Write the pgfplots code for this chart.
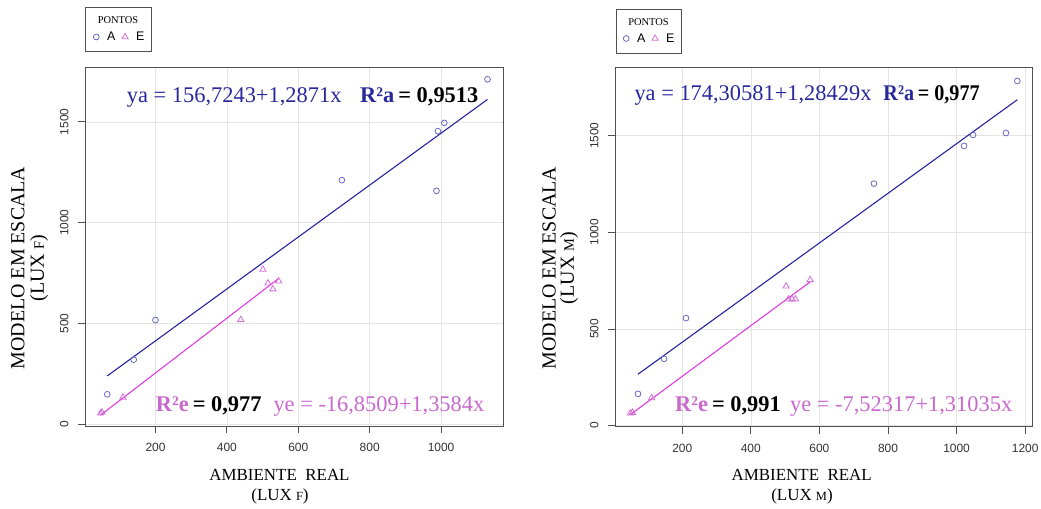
\documentclass[border=0pt]{standalone}
\usepackage{pgfplots}
\pgfplotsset{compat=1.18}
\usepackage{pgfplotstable}
\usepackage{fontspec}
\setmainfont{Liberation Serif}
\setsansfont{Liberation Sans}
\definecolor{lineA}{RGB}{35,35,160}
\definecolor{markA}{RGB}{105,105,195}
\definecolor{lineE}{RGB}{222,60,222}
\definecolor{markE}{RGB}{210,110,215}
\definecolor{txtA}{RGB}{40,40,155}
\definecolor{txtE}{RGB}{200,105,205}
\definecolor{boxc}{RGB}{80,80,80}
\definecolor{gridc}{RGB}{228,228,228}
\definecolor{tickc}{RGB}{50,50,50}

\pgfplotstableread{
x y
1130 1711
1009 1495
991 1454
722 1211
987 1158
200 517
139 321
65 149
}\LA
\pgfplotstableread{
x y
501 768
515 700
529 671
545 710
439 519
109 134
50 60
46 55
}\LE
\pgfplotstableread{
x y
1177 1783
1144 1514
1048 1504
1022 1447
759 1252
211 556
147 345
71 164
}\RA
\pgfplotstableread{
x y
503 721
510 654
520 654
530 654
573 754
111 143
55 67
49 64
}\RE

\pgfplotsset{
  rstyle/.style={
    scale only axis,
    anchor=south west,
    axis line style={boxc, line width=0.8pt},
    grid=major,
    major grid style={gridc, line width=0.6pt},
    tick align=outside,
    major tick length=7bp,
    tick style={boxc, line width=0.8pt},
    xtick pos=bottom, ytick pos=left,
    ytick={0,500,1000,1500},
    /pgf/number format/.cd, 1000 sep={}, assume math mode=true, /pgfplots/.cd,
    ticklabel style={font=\sffamily\fontsize{12}{14}\selectfont, text=tickc},
    yticklabel style={rotate=90, anchor=south},
    yticklabel shift=6bp,
    xticklabel shift=7bp,
    legend columns=-1,
    legend style={draw=none, fill=none, inner sep=0pt, outer sep=0pt,
      font=\sffamily\fontsize{12.5}{14}\selectfont,
      nodes={inner sep=1bp},
      /tikz/every odd column/.append style={column sep=7bp},
      /tikz/every even column/.append style={column sep=5.5bp}},
    legend image code/.code={\draw[mark repeat=2,mark phase=2,##1] plot coordinates {(0bp,0bp)(5bp,0bp)(10bp,0bp)};},
    scaled ticks=false,
  },
  markAst/.style={only marks, mark=o, mark size=2.9bp, draw=markA, mark options={line width=0.8pt}},
  markEst/.style={only marks, mark=triangle, mark size=3.6bp, draw=markE, mark options={line width=0.8pt}},
}

\begin{document}
\begin{tikzpicture}
\useasboundingbox (0,0) rectangle (1041bp,509bp);

% ---------- left panel ----------
\begin{axis}[rstyle,
  at={(85bp,83bp)}, width=418bp, height=359bp,
  xmin=2.6, xmax=1173.4, ymin=-8, ymax=1772,
  xtick={200,400,600,800,1000},
  legend style={at={(0.02,1.0836)}, anchor=west},
]
\addplot[markAst] table[x=x,y=y]{\LA};
\addlegendentry{A}
\addplot[markEst] table[x=x,y=y]{\LE};
\addlegendentry{E}
\addplot[lineA, line width=1.1pt, forget plot] coordinates {(65,240.4) (1130,1611.2)};
\addplot[lineE, line width=1.1pt, forget plot] coordinates {(46,45.6) (545,723.5)};
\end{axis}

% ---------- right panel ----------
\begin{axis}[rstyle,
  at={(615bp,82.3bp)}, width=417.7bp, height=359.4bp,
  xmin=4, xmax=1222, ymin=-6, ymax=1854,
  xtick={200,400,600,800,1000,1200},
  legend style={at={(0.02,1.0801)}, anchor=west},
]
\addplot[markAst] table[x=x,y=y]{\RA};
\addlegendentry{A}
\addplot[markEst] table[x=x,y=y]{\RE};
\addlegendentry{E}
\addplot[lineA, line width=1.1pt, forget plot] coordinates {(71,265.5) (1177,1685.9)};
\addplot[lineE, line width=1.1pt, forget plot] coordinates {(49,56.7) (573,743.4)};
\end{axis}

% legend frames and titles
\draw[boxc, line width=0.8pt] (85bp,458bp) rectangle (151bp,502bp);
\node[font=\fontsize{10.5}{12}\selectfont] at (118bp,489bp) {PONTOS};
\draw[boxc, line width=0.8pt] (616bp,456bp) rectangle (681bp,500bp);
\node[font=\fontsize{10.5}{12}\selectfont] at (648.5bp,487bp) {PONTOS};

% axis titles
\node[font=\fontsize{17}{20}\selectfont] at (279.5bp,34bp) {AMBIENTE~~REAL};
\node[font=\fontsize{17}{20}\selectfont] at (280bp,13bp) {(LUX {\fontsize{12.5}{14}\selectfont F})};
\node[font=\fontsize{17}{20}\selectfont] at (801.7bp,34bp) {AMBIENTE~~REAL};
\node[font=\fontsize{17}{20}\selectfont] at (802bp,13bp) {(LUX {\fontsize{12.5}{14}\selectfont M})};
\node[font=\fontsize{20}{22}\selectfont, rotate=90] at (18bp,241bp) {MODELO EM ESCALA};
\node[font=\fontsize{20}{22}\selectfont, rotate=90] at (39bp,241bp) {(LUX {\fontsize{14.5}{16}\selectfont F})};
\node[font=\fontsize{20}{22}\selectfont, rotate=90] at (549bp,241bp) {MODELO EM ESCALA};
\node[font=\fontsize{20}{22}\selectfont, rotate=90] at (569bp,241bp) {(LUX {\fontsize{14.5}{16}\selectfont M})};

% equations
\tikzset{eq/.style={anchor=base west, inner sep=0pt, font=\fontsize{22.5}{24}\selectfont},
         eqb/.style={anchor=base west, inner sep=0pt, font=\bfseries\fontsize{22.5}{24}\selectfont}}
\node[eq, text=txtA] at (126.7bp,406bp) {ya = 156,7243+1,2871x};
\node[eqb] at (360bp,406bp) {\textcolor{txtA}{R²a}\hspace{4bp}= 0,9513};
\node[eqb] at (155.7bp,97bp) {\textcolor{txtE}{R²e}\hspace{4bp}= 0,977};
\node[eq, text=txtE] at (273.3bp,97bp) {ye = -16,8509+1,3584x};

\node[eq, text=txtA] at (634.3bp,408bp) {ya = 174,30581+1,28429x};
\node[eqb, xscale=0.9] at (883.3bp,408bp) {\textcolor{txtA}{R²a}\hspace{4bp}= 0,977};
\node[eqb] at (675bp,97bp) {\textcolor{txtE}{R²e}\hspace{4bp}= 0,991};
\node[eq, text=txtE] at (790bp,97bp) {ye = -7,52317+1,31035x};
\end{tikzpicture}
\end{document}
